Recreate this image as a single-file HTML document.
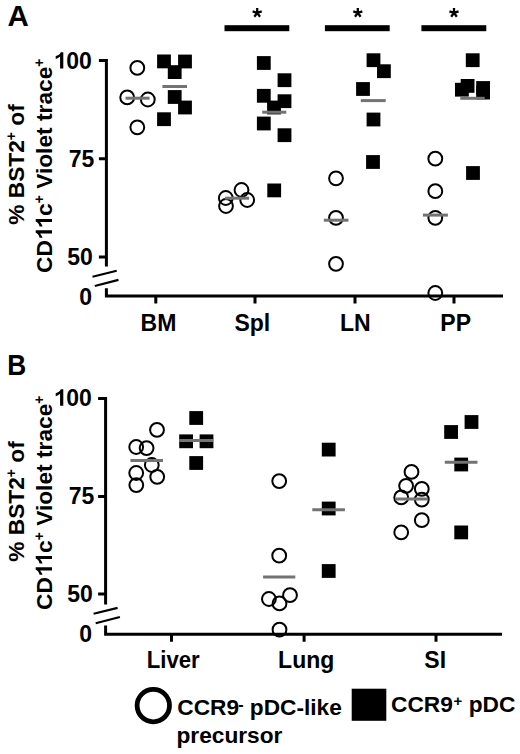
<!DOCTYPE html>
<html><head><meta charset="utf-8"><style>
html,body{margin:0;padding:0;background:#fff;}
svg{display:block;}
.t{font-family:"Liberation Sans",sans-serif;font-weight:bold;font-size:23px;fill:#000;}
.sup{font-size:14px;}
.lg{font-size:22.7px;}
.h1{fill-opacity:0;}
.yt{font-size:22.75px;}
.lsup{font-size:15px;}
.ast{font-family:"Liberation Sans",sans-serif;font-weight:bold;font-size:22px;fill:#000;}
</style></head><body>
<svg width="520" height="754" viewBox="0 0 520 754">
<rect width="520" height="754" fill="#fff"/>
<text x="7.6" y="25.9" class="t" style="font-size:29.5px">A</text>
<text transform="translate(7.3 374.8) scale(0.89 1.015)" class="t" style="font-size:29.5px">B</text>
<text transform="translate(24.1 164.5) rotate(-90)" text-anchor="middle" class="t yt">% BST2<tspan class="sup" dy="-8">+</tspan><tspan dy="8"> of</tspan></text>
<text transform="translate(52 165.7) rotate(-90)" text-anchor="middle" class="t yt">CD<tspan class="h1">11</tspan>c<tspan class="sup" dy="-8">+</tspan><tspan dy="8"> Violet trace</tspan><tspan class="sup" dy="-8">+</tspan></text>
<path transform="translate(52 165.7) rotate(-90)" d="M-64.62 0L-64.62 -16.29L-67.16 -16.29C-67.87 -14.29 -69.62 -12.97 -72.12 -12.4L-72.12 -9.44C-70.3 -10.12 -69.05 -10.92 -67.8 -11.94L-67.8 0ZM-53.23 0L-53.23 -16.29L-55.77 -16.29C-56.48 -14.29 -58.23 -12.97 -60.73 -12.4L-60.73 -9.44C-58.91 -10.12 -57.66 -10.92 -56.41 -11.94L-56.41 0Z" fill="#000"/>
<text transform="translate(24.1 501.5) rotate(-90)" text-anchor="middle" class="t yt">% BST2<tspan class="sup" dy="-8">+</tspan><tspan dy="8"> of</tspan></text>
<text transform="translate(52 502.7) rotate(-90)" text-anchor="middle" class="t yt">CD<tspan class="h1">11</tspan>c<tspan class="sup" dy="-8">+</tspan><tspan dy="8"> Violet trace</tspan><tspan class="sup" dy="-8">+</tspan></text>
<path transform="translate(52 502.7) rotate(-90)" d="M-64.62 0L-64.62 -16.29L-67.16 -16.29C-67.87 -14.29 -69.62 -12.97 -72.12 -12.4L-72.12 -9.44C-70.3 -10.12 -69.05 -10.92 -67.8 -11.94L-67.8 0ZM-53.23 0L-53.23 -16.29L-55.77 -16.29C-56.48 -14.29 -58.23 -12.97 -60.73 -12.4L-60.73 -9.44C-58.91 -10.12 -57.66 -10.92 -56.41 -11.94L-56.41 0Z" fill="#000"/>
<text x="91.8" y="68.6" text-anchor="end" class="t"><tspan class="h1">1</tspan>00</text>
<path d="M63.3 68.6L63.3 52.13L60.72 52.13C60.01 54.16 58.24 55.49 55.71 56.06L55.71 59.05C57.55 58.36 58.81 57.56 60.08 56.52L60.08 68.6Z" fill="#000"/>
<text x="94.4" y="166.85" text-anchor="end" class="t">75</text>
<text x="92.8" y="265" text-anchor="end" class="t">50</text>
<text x="92" y="305.1" text-anchor="end" class="t">0</text>
<text x="91.8" y="405.8" text-anchor="end" class="t"><tspan class="h1">1</tspan>00</text>
<path d="M63.3 405.8L63.3 389.33L60.72 389.33C60.01 391.36 58.24 392.69 55.71 393.26L55.71 396.25C57.55 395.56 58.81 394.76 60.08 393.73L60.08 405.8Z" fill="#000"/>
<text x="94.4" y="504.1" text-anchor="end" class="t">75</text>
<text x="92.8" y="602.1" text-anchor="end" class="t">50</text>
<text x="92" y="641.8" text-anchor="end" class="t">0</text>
<path d="M98.9 60.6H106.4V266.6M98.9 158.85H106.4M98.9 257H106.4" stroke="#000" stroke-width="3" fill="none"/>
<path d="M106.4 288.3V296H503" stroke="#000" stroke-width="3" fill="none"/>
<path d="M155.8 296V303.5M255 296V303.5M355 296V303.5M454 296V303.5" stroke="#000" stroke-width="3" fill="none"/>
<line x1="92.5" y1="276.8" x2="116.7" y2="270.7" stroke="#000" stroke-width="2.2"/>
<line x1="94.8" y1="286" x2="118.5" y2="279.9" stroke="#000" stroke-width="2.2"/>
<path d="M98.1 398.6H105.6V604.5M98.1 496.6H105.6M98.1 594.1H105.6" stroke="#000" stroke-width="3" fill="none"/>
<path d="M105.6 625.5V634.3H502" stroke="#000" stroke-width="3" fill="none"/>
<path d="M171.5 634.3V641.8M304.1 634.3V641.8M436 634.3V641.8" stroke="#000" stroke-width="3" fill="none"/>
<line x1="93.6" y1="613.8" x2="117.6" y2="607.9" stroke="#000" stroke-width="2.2"/>
<line x1="95.7" y1="623.3" x2="119.9" y2="617" stroke="#000" stroke-width="2.2"/>
<text x="158.5" y="330.8" text-anchor="middle" class="t">BM</text>
<text x="252.3" y="330.8" text-anchor="middle" class="t">Spl</text>
<text x="355.4" y="330.8" text-anchor="middle" class="t">LN</text>
<text x="455.7" y="330.8" text-anchor="middle" class="t">PP</text>
<text x="173.2" y="667.8" text-anchor="middle" class="t" textLength="53" lengthAdjust="spacingAndGlyphs">Liver</text>
<text x="306.2" y="667.8" text-anchor="middle" class="t">Lung</text>
<text x="435.2" y="667.8" text-anchor="middle" class="t">SI</text>
<rect x="224.5" y="25.2" width="64.8" height="6" fill="#000"/>
<path d="M257.2 12.9L257.2 8.1M257.2 12.9L261.77 11.42M257.2 12.9L260.02 16.78M257.2 12.9L254.38 16.78M257.2 12.9L252.63 11.42" stroke="#000" stroke-width="2.3" fill="none"/>
<rect x="324.9" y="25.2" width="64.8" height="6" fill="#000"/>
<path d="M357.8 12.9L357.8 8.1M357.8 12.9L362.37 11.42M357.8 12.9L360.62 16.78M357.8 12.9L354.98 16.78M357.8 12.9L353.23 11.42" stroke="#000" stroke-width="2.3" fill="none"/>
<rect x="421.4" y="25.2" width="64.9" height="6" fill="#000"/>
<path d="M454 12.9L454 8.1M454 12.9L458.57 11.42M454 12.9L456.82 16.78M454 12.9L451.18 16.78M454 12.9L449.43 11.42" stroke="#000" stroke-width="2.3" fill="none"/>
<circle cx="137.3" cy="67.9" r="6.9" fill="none" stroke="#000" stroke-width="2.0"/>
<circle cx="127.2" cy="97.4" r="6.9" fill="none" stroke="#000" stroke-width="2.0"/>
<circle cx="147.8" cy="99.5" r="6.9" fill="none" stroke="#000" stroke-width="2.0"/>
<circle cx="137.3" cy="127.3" r="6.9" fill="none" stroke="#000" stroke-width="2.0"/>
<circle cx="225.8" cy="198" r="6.9" fill="none" stroke="#000" stroke-width="2.0"/>
<circle cx="226" cy="206" r="6.9" fill="none" stroke="#000" stroke-width="2.0"/>
<circle cx="241.5" cy="190" r="6.9" fill="none" stroke="#000" stroke-width="2.0"/>
<circle cx="247.2" cy="200" r="6.9" fill="none" stroke="#000" stroke-width="2.0"/>
<circle cx="336" cy="178.3" r="6.9" fill="none" stroke="#000" stroke-width="2.0"/>
<circle cx="336" cy="217.8" r="6.9" fill="none" stroke="#000" stroke-width="2.0"/>
<circle cx="336" cy="263.8" r="6.9" fill="none" stroke="#000" stroke-width="2.0"/>
<circle cx="435.3" cy="158.7" r="6.9" fill="none" stroke="#000" stroke-width="2.0"/>
<circle cx="435.3" cy="191.2" r="6.9" fill="none" stroke="#000" stroke-width="2.0"/>
<circle cx="435.3" cy="217.8" r="6.9" fill="none" stroke="#000" stroke-width="2.0"/>
<circle cx="435.3" cy="293" r="6.9" fill="none" stroke="#000" stroke-width="2.0"/>
<rect x="157.1" y="54.5" width="13.8" height="13.8" fill="#000"/>
<rect x="178.1" y="54.6" width="13.8" height="13.8" fill="#000"/>
<rect x="167.8" y="65.2" width="13.8" height="13.8" fill="#000"/>
<rect x="167.8" y="90.1" width="13.8" height="13.8" fill="#000"/>
<rect x="178.1" y="100.6" width="13.8" height="13.8" fill="#000"/>
<rect x="157.1" y="112.3" width="13.8" height="13.8" fill="#000"/>
<rect x="256.9" y="56.1" width="13.8" height="13.8" fill="#000"/>
<rect x="277.6" y="73.3" width="13.8" height="13.8" fill="#000"/>
<rect x="256.9" y="88.9" width="13.8" height="13.8" fill="#000"/>
<rect x="277.6" y="94.3" width="13.8" height="13.8" fill="#000"/>
<rect x="267.1" y="100.6" width="13.8" height="13.8" fill="#000"/>
<rect x="256.9" y="116.6" width="13.8" height="13.8" fill="#000"/>
<rect x="277.6" y="128.3" width="13.8" height="13.8" fill="#000"/>
<rect x="267.3" y="183.5" width="13.8" height="13.8" fill="#000"/>
<rect x="366.6" y="53.3" width="13.8" height="13.8" fill="#000"/>
<rect x="377" y="64.3" width="13.8" height="13.8" fill="#000"/>
<rect x="356.1" y="82.1" width="13.8" height="13.8" fill="#000"/>
<rect x="366.6" y="112.6" width="13.8" height="13.8" fill="#000"/>
<rect x="366.1" y="155.1" width="13.8" height="13.8" fill="#000"/>
<rect x="465.8" y="53.3" width="13.8" height="13.8" fill="#000"/>
<rect x="455" y="82.8" width="13.8" height="13.8" fill="#000"/>
<rect x="460.7" y="79" width="13.8" height="13.8" fill="#000"/>
<rect x="476.2" y="81.1" width="13.8" height="13.8" fill="#000"/>
<rect x="476.2" y="85.7" width="13.8" height="13.8" fill="#000"/>
<rect x="466.1" y="166.1" width="13.8" height="13.8" fill="#000"/>
<line x1="125.5" y1="98.2" x2="149.6" y2="98.2" stroke="#737373" stroke-width="3.0"/>
<line x1="162.4" y1="86.5" x2="187" y2="86.5" stroke="#737373" stroke-width="3.0"/>
<line x1="224.9" y1="198.2" x2="249.1" y2="198.2" stroke="#737373" stroke-width="3.0"/>
<line x1="262.2" y1="112.2" x2="286.3" y2="112.2" stroke="#737373" stroke-width="3.0"/>
<line x1="323.8" y1="220.2" x2="348.4" y2="220.2" stroke="#737373" stroke-width="3.0"/>
<line x1="360.8" y1="100.6" x2="385.7" y2="100.6" stroke="#737373" stroke-width="3.0"/>
<line x1="422.9" y1="215.1" x2="447.9" y2="215.1" stroke="#737373" stroke-width="3.0"/>
<line x1="460.3" y1="98.3" x2="484.7" y2="98.3" stroke="#737373" stroke-width="3.0"/>
<circle cx="157" cy="429.9" r="6.9" fill="none" stroke="#000" stroke-width="2.0"/>
<circle cx="136.2" cy="447" r="6.9" fill="none" stroke="#000" stroke-width="2.0"/>
<circle cx="146.6" cy="448.1" r="6.9" fill="none" stroke="#000" stroke-width="2.0"/>
<circle cx="151.8" cy="465" r="6.9" fill="none" stroke="#000" stroke-width="2.0"/>
<circle cx="136.2" cy="473" r="6.9" fill="none" stroke="#000" stroke-width="2.0"/>
<circle cx="157.2" cy="476.8" r="6.9" fill="none" stroke="#000" stroke-width="2.0"/>
<circle cx="136.3" cy="485.1" r="6.9" fill="none" stroke="#000" stroke-width="2.0"/>
<circle cx="279.2" cy="481.1" r="6.9" fill="none" stroke="#000" stroke-width="2.0"/>
<circle cx="279.2" cy="555.7" r="6.9" fill="none" stroke="#000" stroke-width="2.0"/>
<circle cx="268.9" cy="599" r="6.9" fill="none" stroke="#000" stroke-width="2.0"/>
<circle cx="290" cy="595.2" r="6.9" fill="none" stroke="#000" stroke-width="2.0"/>
<circle cx="279.5" cy="603.4" r="6.9" fill="none" stroke="#000" stroke-width="2.0"/>
<circle cx="279.5" cy="629.7" r="6.9" fill="none" stroke="#000" stroke-width="2.0"/>
<circle cx="411.5" cy="471.9" r="6.9" fill="none" stroke="#000" stroke-width="2.0"/>
<circle cx="406.1" cy="485.8" r="6.9" fill="none" stroke="#000" stroke-width="2.0"/>
<circle cx="421.8" cy="488.9" r="6.9" fill="none" stroke="#000" stroke-width="2.0"/>
<circle cx="401.2" cy="497.4" r="6.9" fill="none" stroke="#000" stroke-width="2.0"/>
<circle cx="421.8" cy="499.6" r="6.9" fill="none" stroke="#000" stroke-width="2.0"/>
<circle cx="421.8" cy="520.2" r="6.9" fill="none" stroke="#000" stroke-width="2.0"/>
<circle cx="401.2" cy="532.3" r="6.9" fill="none" stroke="#000" stroke-width="2.0"/>
<rect x="189.3" y="411.1" width="13.8" height="13.8" fill="#000"/>
<rect x="179.2" y="434.4" width="13.8" height="13.8" fill="#000"/>
<rect x="199.6" y="434.4" width="13.8" height="13.8" fill="#000"/>
<rect x="189.3" y="456.1" width="13.8" height="13.8" fill="#000"/>
<rect x="321.8" y="442.7" width="13.8" height="13.8" fill="#000"/>
<rect x="321.8" y="501.6" width="13.8" height="13.8" fill="#000"/>
<rect x="321.8" y="564.1" width="13.8" height="13.8" fill="#000"/>
<rect x="464.6" y="415.1" width="13.8" height="13.8" fill="#000"/>
<rect x="444.2" y="425.1" width="13.8" height="13.8" fill="#000"/>
<rect x="454.3" y="457.6" width="13.8" height="13.8" fill="#000"/>
<rect x="454.3" y="525.5" width="13.8" height="13.8" fill="#000"/>
<line x1="130.4" y1="460.6" x2="163" y2="460.6" stroke="#737373" stroke-width="3.0"/>
<line x1="179.2" y1="440.6" x2="213.1" y2="440.6" stroke="#737373" stroke-width="3.0"/>
<line x1="263.1" y1="577" x2="295.3" y2="577" stroke="#737373" stroke-width="3.0"/>
<line x1="312.3" y1="509.7" x2="344.9" y2="509.7" stroke="#737373" stroke-width="3.0"/>
<line x1="395.3" y1="499" x2="428.2" y2="499" stroke="#737373" stroke-width="3.0"/>
<line x1="444.8" y1="462.2" x2="477.5" y2="462.2" stroke="#737373" stroke-width="3.0"/>
<circle cx="153.3" cy="705.6" r="16.2" fill="none" stroke="#000" stroke-width="4.8"/>
<text x="177.3" y="715.2" class="t lg">CCR9<tspan class="lsup" style="font-size:16px" dx="-0.9" dy="-4.8">-</tspan><tspan dy="4.8"> pDC-like</tspan></text>
<text x="176.5" y="742.6" class="t lg">precursor</text>
<rect x="351.7" y="688.7" width="34.6" height="32.1" fill="#000"/>
<text x="391" y="711.9" class="t lg">CCR9<tspan class="lsup" dx="0.8" dy="-6">+</tspan><tspan dy="6"> pDC</tspan></text>
</svg>
</body></html>
